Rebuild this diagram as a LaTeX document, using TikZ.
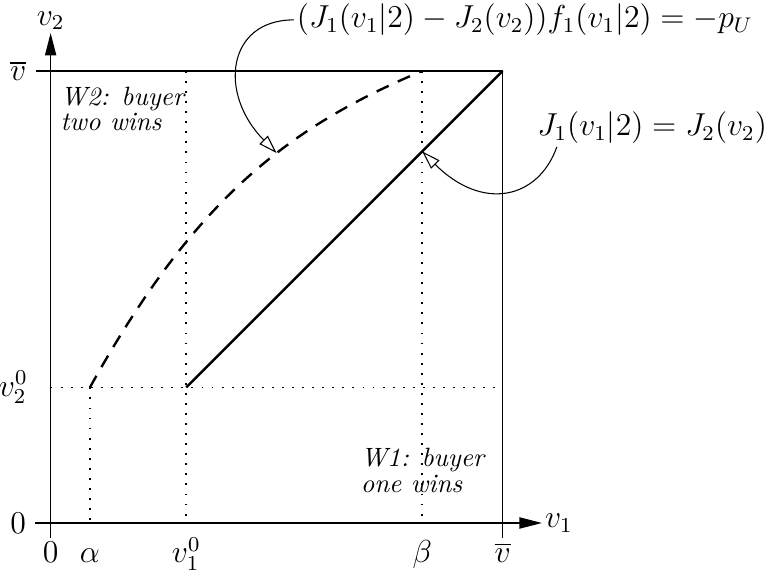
\documentclass[tikz,border=0pt]{standalone}
\usepackage{amsmath,amssymb}
\usetikzlibrary{positioning,calc,arrows.meta}

\tikzset{
  axis/.style={line width=0.6pt,-{Triangle[length=8.5pt,width=4.2pt]}},
  frame/.style={line width=0.6pt},
  guide/.style={line width=0.6pt,dash pattern=on 0.7pt off 3.1pt},
  boundary/.style={line width=0.9pt},
  pointer/.style={line width=0.4pt,-{Triangle[open,length=7pt,width=4.4pt]}},
  region/.style={align=left,inner sep=0pt,font=\fontsize{10}{8.4}\selectfont\itshape},
}

\begin{document}
\begin{tikzpicture}[x=0.6cm,y=0.6cm,font=\fontsize{11.5}{13}\selectfont]
  \useasboundingbox (-1.12,-1.13) rectangle (15.87,11.57);
  % values on the axes
  \def\va{0.87}  % alpha
  \def\vb{8.22}  % beta
  \def\vo{3}     % v_1^0 and v_2^0
  \def\vt{10}    % upper bound
  \coordinate (xend) at (10.87,0);
  \coordinate (yend) at (0,10.84);
  % frame and axes
  \draw[frame] (-0.33,\vt) -- (\vt,\vt) -- (\vt,-0.33);
  \draw[axis] (-0.34,0) -- (xend);
  \draw[axis] (0,-0.33) -- (yend);
  \node[right,inner sep=1pt] (lvone) at (xend) {$v_1$};
  \node[above,inner sep=1pt] (lvtwo) at (yend) {$v_2$};
  % dotted guides
  \draw[guide] (0,\vo) -- (\vt,\vo);
  \foreach \x/\y in {\va/\vo,\vo/\vt,\vb/\vt}{
    \draw[guide] (\x,\y) -- (\x,0);
  }
  % tick labels
  \node[left] (lybar) at (-0.33,\vt) {$\overline{v}$};
  \node[left] (lyo) at (-0.3,\vo) {$v_2^0$};
  \node[left] (lyzero) at (-0.34,0) {$0$};
  \foreach \x/\lab/\nm in {0/0/lxzero,\va/\alpha/lalpha,\vo/v_1^0/lxo,\vb/\beta/lbeta,\vt/\overline{v}/lxbar}{
    \node[anchor=base] (\nm) at (\x,-0.88) {$\lab$};
  }
  % the two boundaries
  \draw[boundary,dash pattern=on 5pt off 3.8pt] (\va,\vo)
    .. controls (3.17,7.14) and (5.22,8.74) .. (\vb,\vt) coordinate[pos=0.6] (dtip);
  \draw[boundary] (\vo,\vo) -- (\vt,\vt);
  \coordinate (stip) at (\vb,\vb);
  % regions
  \node[region,anchor=north west] (wtwo) at (0.21,9.66) {W2: buyer\\two wins};
  \node[region,anchor=north west] (wone) at (6.85,1.66) {W1: buyer\\one wins};
  % equations with pointers
  \node[anchor=west,inner sep=1pt] (eqa) at (5.38,11.13) {$(J_1(v_1|2)-J_2(v_2))f_1(v_1|2)=-p_U$};
  \node[anchor=west,inner sep=1pt] (eqj) at (10.7,8.74) {$J_1(v_1|2)=J_2(v_2)$};
  \draw[pointer] (eqa.west) .. controls (3.9,11.13) and (3.7,9.5) .. (dtip);
  \draw[pointer] ([xshift=8.5pt]eqj.south west) .. controls (10.79,7.17) and (9.56,6.88) .. (stip);
\end{tikzpicture}
\end{document}
